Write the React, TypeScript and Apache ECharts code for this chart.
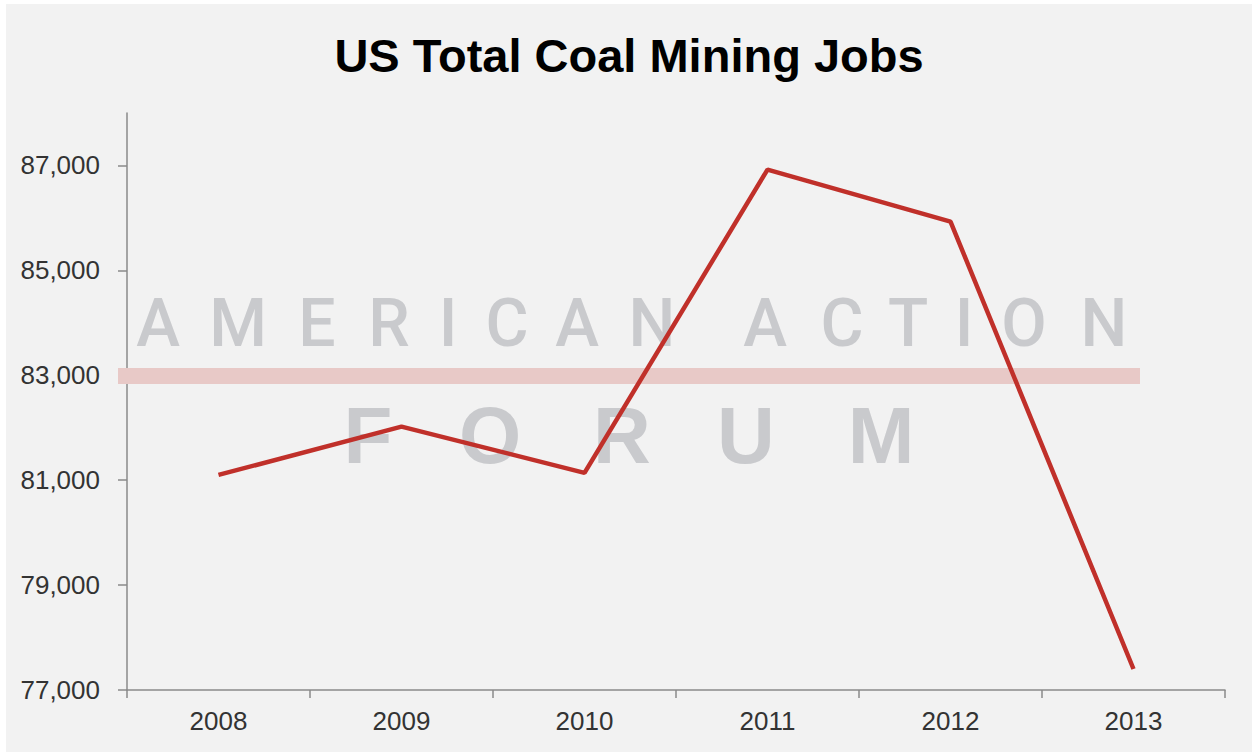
import React, { useEffect, useRef } from "react";
import * as echarts from "echarts";

const years = ["2008", "2009", "2010", "2011", "2012", "2013"];
const jobs = [81100, 82020, 81140, 86920, 85930, 77400];
const yTicks = [77000, 79000, 81000, 83000, 85000, 87000];
const titleText = "US Total Coal Mining Jobs";
const wmTop = "AMERICAN ACTION";
const wmBottom = "FORUM";

const OX = 6;
const OY = 4;

export default function App() {
  const ref = useRef<HTMLDivElement>(null);
  useEffect(() => {
    if (!ref.current) return;
    const chart = echarts.init(ref.current, null, { renderer: "svg" });

    const topCenters = [158, 238, 317, 389, 448, 507, 577, 652, -1, 765, 842, 908, 964, 1024, 1104];
    const bottomCenters = [368, 490, 622, 746, 881];
    const wmColor = "#c9cacd";
    const graphics: any[] = [];
    wmTop.split("").forEach((ch, i) => {
      if (ch === " ") return;
      graphics.push({
        type: "text",
        x: topCenters[i] - OX,
        y: 323 - OY,
        z: 1,
        silent: true,
        style: {
          text: ch,
          fill: wmColor,
          fontSize: 66,
          fontFamily: "Roboto, 'Liberation Sans', sans-serif",
          fontWeight: 500,
          textAlign: "center",
          verticalAlign: "middle",
        },
      });
    });
    wmBottom.split("").forEach((ch, i) => {
      graphics.push({
        type: "text",
        x: bottomCenters[i] - OX,
        y: 435 - OY,
        z: 1,
        silent: true,
        style: {
          text: ch,
          fill: wmColor,
          fontSize: 80,
          fontFamily: "'Liberation Sans', Arial, sans-serif",
          fontWeight: "bold",
          textAlign: "center",
          verticalAlign: "middle",
        },
      });
    });
    graphics.push({
      type: "rect",
      z: 1,
      silent: true,
      shape: { x: 118 - OX, y: 368 - OY, width: 1140 - 118, height: 16 },
      style: { fill: "#e8c9c7" },
    });

    chart.setOption({
      animation: false,
      backgroundColor: "#f2f2f2",
      title: {
        text: titleText,
        left: "center",
        top: 23,
        textStyle: {
          fontFamily: "'Liberation Sans', Arial, sans-serif",
          fontWeight: "bold",
          fontSize: 47,
          color: "#000000",
        },
      },
      graphic: graphics,
      grid: {
        left: 127 - OX,
        right: 27,
        top: 113 - OY,
        bottom: 62,
        containLabel: false,
      },
      xAxis: {
        type: "category",
        data: years,
        boundaryGap: true,
        axisLine: { lineStyle: { color: "#8a8a8a", width: 1.5 } },
        axisTick: { show: true, length: 8, lineStyle: { color: "#8a8a8a", width: 1.5 } },
        axisLabel: {
          margin: 18,
          fontSize: 26,
          color: "#333333",
          fontFamily: "'Liberation Sans', Arial, sans-serif",
        },
        splitLine: { show: false },
      },
      yAxis: {
        type: "value",
        min: 77000,
        max: 88000,
        axisLine: { show: true, lineStyle: { color: "#8a8a8a", width: 1.5 } },
        axisTick: {
          show: true,
          length: 9,
          customValues: yTicks,
          lineStyle: { color: "#8a8a8a", width: 1.5 },
        },
        axisLabel: {
          customValues: yTicks,
          margin: 27,
          fontSize: 26,
          color: "#333333",
          fontFamily: "'Liberation Sans', Arial, sans-serif",
          formatter: (v: number) => v.toLocaleString("en-US"),
        },
        splitLine: { show: false },
      },
      series: [
        {
          type: "line",
          data: jobs,
          z: 3,
          symbol: "none",
          lineStyle: { color: "#c0302a", width: 4.5 },
          itemStyle: { color: "#c0302a" },
        },
      ],
    });
    return () => chart.dispose();
  }, []);

  return (
    <div style={{ position: "fixed", left: 0, top: 0, width: 1252, height: 753, background: "#ffffff" }}>
      <div
        ref={ref}
        style={{ position: "absolute", left: OX, top: OY, width: 1252 - OX, height: 752 - OY }}
      />
    </div>
  );
}
